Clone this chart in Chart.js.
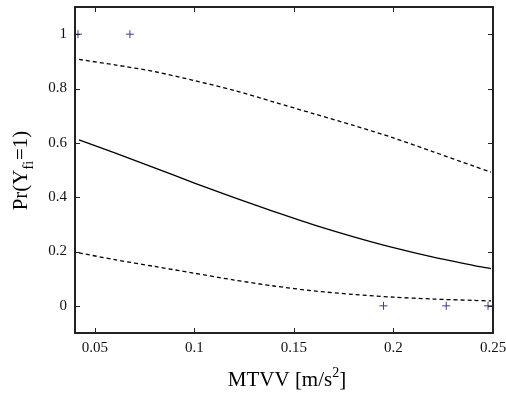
<!DOCTYPE html>
<html>
<head>
<meta charset="utf-8">
<title>Pr(Y_fi=1) vs MTVV</title>
<style>
  html, body { margin: 0; padding: 0; background: #fff; }
  #wrap { width: 506px; height: 394px; }
</style>
</head>
<body>
<div id="wrap"><canvas id="prChart"></canvas></div>
<script src="https://cdn.jsdelivr.net/npm/chart.js@4"></script>
<script>
// axis ticks
const xTicks = [0.05, 0.1, 0.15, 0.2, 0.25];
const yTicks = [0, 0.2, 0.4, 0.6, 0.8, 1];

// fitted curve and bounds
const curveX     = [0.042, 0.06, 0.08, 0.1, 0.12, 0.14, 0.16, 0.18, 0.2, 0.22, 0.24, 0.249];
const fitProb    = [0.611, 0.563, 0.508, 0.452, 0.398, 0.347, 0.298, 0.254, 0.214, 0.179, 0.149, 0.137];
const upperBound = [0.907, 0.887, 0.862, 0.829, 0.793, 0.750, 0.707, 0.664, 0.618, 0.567, 0.515, 0.492];
const lowerBound = [0.195, 0.170, 0.145, 0.120, 0.095, 0.073, 0.055, 0.042, 0.032, 0.025, 0.020, 0.018];

// observations
const obsX = [0.0415, 0.0676, 0.195, 0.2265, 0.2475];
const obsY = [1, 1, 0, 0, 0];

const serif = "'Liberation Serif', 'DejaVu Serif', serif";
const toXY = (xs, ys) => xs.map((x, i) => ({x: x, y: ys[i]}));
const plainNum = v => String(Math.round(v * 1000) / 1000);

// frame with inward ticks on all four sides, like a boxed matlab axis
const framePlugin = {
    id: 'frame',
    afterDraw(chart) {
        const {ctx, chartArea: a, scales} = chart;
        const tl = 5;
        ctx.save();
        ctx.strokeStyle = '#222';
        ctx.lineWidth = 1;
        ctx.beginPath();
        xTicks.forEach(v => {
            const px = Math.round(scales.x.getPixelForValue(v)) + 0.5;
            ctx.moveTo(px, a.bottom); ctx.lineTo(px, a.bottom - tl);
            ctx.moveTo(px, a.top); ctx.lineTo(px, a.top + tl);
        });
        yTicks.forEach(v => {
            const py = Math.round(scales.y.getPixelForValue(v)) + 0.5;
            ctx.moveTo(a.left, py); ctx.lineTo(a.left + tl, py);
            ctx.moveTo(a.right, py); ctx.lineTo(a.right - tl, py);
        });
        ctx.stroke();
        ctx.lineWidth = 2;
        ctx.strokeRect(a.left, a.top, a.right - a.left, a.bottom - a.top);
        ctx.restore();
    }
};

// axis titles with super/subscripts
const titlePlugin = {
    id: 'titles',
    afterDraw(chart) {
        const {ctx, chartArea: a} = chart;
        const big = '21px ' + serif, small = '14px ' + serif;
        ctx.save();
        ctx.fillStyle = '#000';
        ctx.textBaseline = 'alphabetic';
        ctx.textAlign = 'left';

        // x title: MTVV [m/s^2]
        ctx.font = big;
        const p1 = 'MTVV [m/s', p3 = ']';
        const w1 = ctx.measureText(p1).width, w3 = ctx.measureText(p3).width;
        ctx.font = small;
        const w2 = ctx.measureText('2').width;
        let x = (a.left + a.right) / 2 + 3 - (w1 + w2 + w3) / 2;
        const base = 386;
        ctx.font = big; ctx.fillText(p1, x, base); x += w1;
        ctx.font = small; ctx.fillText('2', x, base - 9); x += w2;
        ctx.font = big; ctx.fillText(p3, x, base);

        // y title: Pr(Y_fi=1)
        ctx.translate(27, (a.top + a.bottom) / 2 + 1);
        ctx.rotate(-Math.PI / 2);
        ctx.font = big;
        const q1 = 'Pr(Y', q3 = '=1)';
        const v1 = ctx.measureText(q1).width, v3 = ctx.measureText(q3).width;
        ctx.font = small;
        const v2 = ctx.measureText('fi').width;
        let t = -(v1 + v2 + v3) / 2;
        ctx.font = big; ctx.fillText(q1, t, 0); t += v1;
        ctx.font = small; ctx.fillText('fi', t, 6); t += v2 + 1;
        ctx.font = big; ctx.fillText(q3, t, 0);
        ctx.restore();
    }
};

function setupChart() {
    const ctx = document.getElementById('prChart').getContext('2d');
    const config = {
        type: 'scatter',
        data: {
            datasets: [{
                label: 'fit',
                data: toXY(curveX, fitProb),
                showLine: true,
                borderColor: '#000',
                borderWidth: 1.3,
                pointRadius: 0,
                tension: 0.3
            }, {
                label: 'upper',
                data: toXY(curveX, upperBound),
                showLine: true,
                borderColor: '#000',
                borderWidth: 1.3,
                borderDash: [4, 3],
                pointRadius: 0,
                tension: 0.3
            }, {
                label: 'lower',
                data: toXY(curveX, lowerBound),
                showLine: true,
                borderColor: '#000',
                borderWidth: 1.3,
                borderDash: [4, 3],
                pointRadius: 0,
                tension: 0.3
            }, {
                label: 'observed',
                data: toXY(obsX, obsY),
                showLine: false,
                pointStyle: 'cross',
                pointRadius: 4,
                borderWidth: 1,
                borderColor: 'rgb(60, 60, 150)',
                clip: false
            }]
        },
        options: {
            responsive: true,
            maintainAspectRatio: false,
            animation: false,
            layout: { padding: { top: 7, right: 13, left: 0, bottom: 0 } },
            plugins: { legend: { display: false }, tooltip: { enabled: false } },
            scales: {
                x: {
                    type: 'linear',
                    min: 0.04,
                    max: 0.25,
                    grid: { display: false, drawTicks: false },
                    border: { display: false },
                    afterBuildTicks: s => { s.ticks = xTicks.map(v => ({value: v})); },
                    afterFit: s => {
                        s.height = 61;
                        s.paddingLeft = 0; s.paddingRight = 0;
                    },
                    ticks: {
                        color: '#111',
                        font: { family: serif, size: 15 },
                        padding: 6,
                        maxRotation: 0,
                        autoSkip: false,
                        callback: plainNum
                    }
                },
                y: {
                    type: 'linear',
                    min: -0.1,
                    max: 1.1,
                    grid: { display: false, drawTicks: false },
                    border: { display: false },
                    afterBuildTicks: s => { s.ticks = yTicks.map(v => ({value: v})); },
                    afterFit: s => {
                        s.width = 75;
                        s.paddingTop = 0; s.paddingBottom = 0;
                    },
                    ticks: {
                        color: '#111',
                        font: { family: serif, size: 15 },
                        padding: 8,
                        callback: plainNum
                    }
                }
            }
        },
        plugins: [framePlugin, titlePlugin]
    };
    return new Chart(ctx, config);
}

setupChart();
</script>
</body>
</html>
